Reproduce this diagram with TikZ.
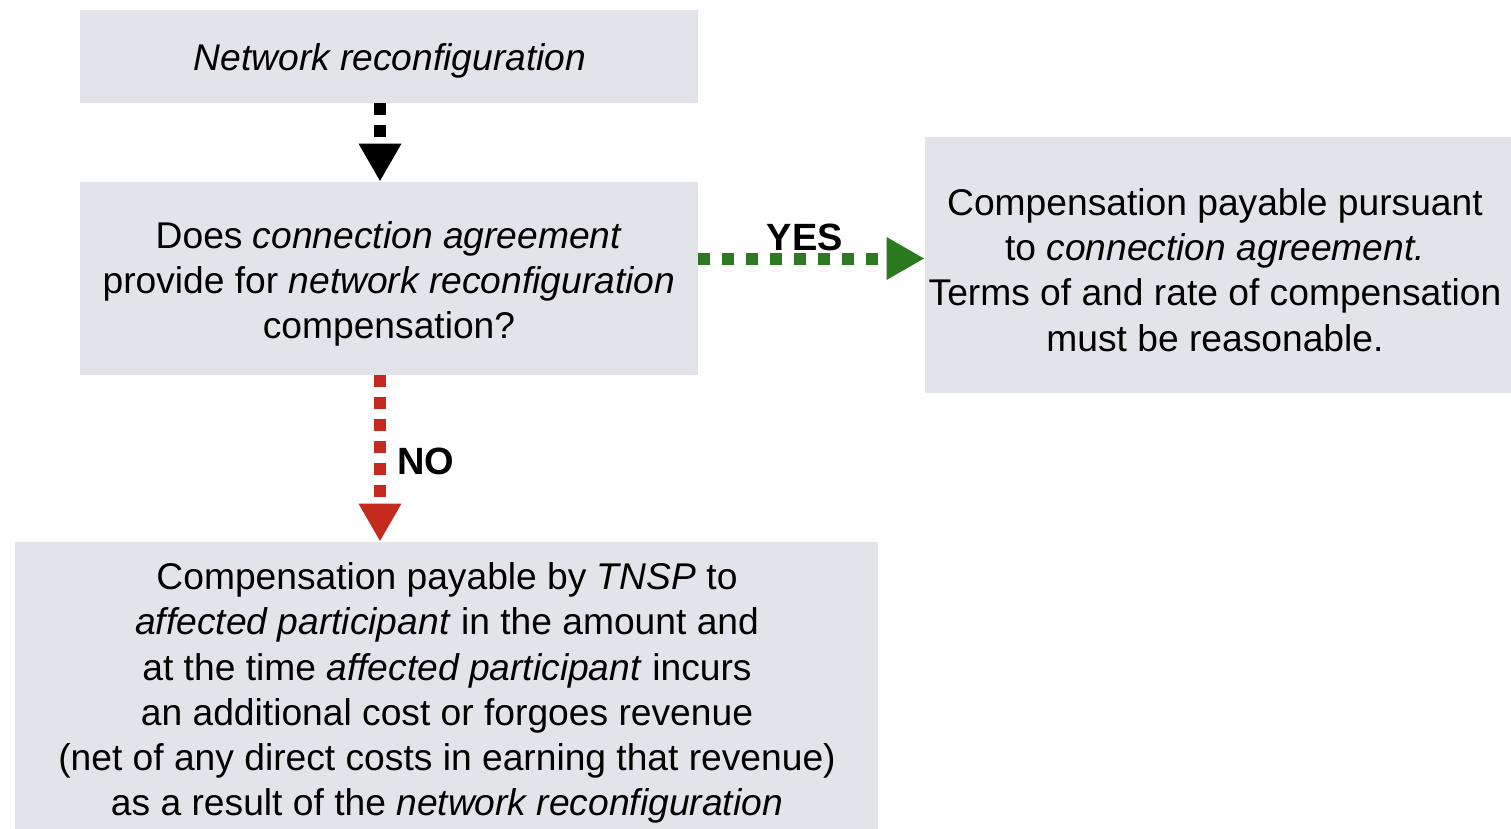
\documentclass[tikz,border=0pt]{standalone}
\usepackage{fontspec}
\setmainfont{Liberation Sans}
\usetikzlibrary{arrows.meta}
\definecolor{boxfill}{HTML}{E3E3EA}
\definecolor{yesgreen}{HTML}{2B7A20}
\definecolor{nored}{HTML}{C42A1D}
\tikzset{
  box/.style={fill=boxfill, draw=none, inner sep=0pt},
  txt/.style={align=center, inner sep=0pt,
    font=\fontsize{18.6}{22.6}\selectfont},
  flow/.style={line width=6pt, dash pattern=on 6pt off 5pt,
    -{Triangle[length=19pt,width=20pt]}},
  lbl/.style={font=\fontsize{19}{22}\selectfont\bfseries, inner sep=0pt}
}
\begin{document}
\begin{tikzpicture}[x=0.5pt,y=-0.5pt]
\useasboundingbox (0,0) rectangle (1511,829);
\node[box, minimum width=309pt, minimum height=46.5pt] (n1) at (389,56.5) {};
\node[box, minimum width=309pt, minimum height=96.5pt] (n2) at (389,278.5) {};
\node[box, minimum width=293pt, minimum height=128pt] (n3) at (1218,265) {};
\node[box, minimum width=431.5pt, minimum height=143.5pt] (n4) at (446.5,685.5) {};
\node[txt] (t1) at (390,61) {\itshape Network reconfiguration};
\node[txt] (t2) at (389,284) {Does \textit{connection agreement}\\provide for \textit{network reconfiguration}\\compensation?};
\node[txt] (t3) at (1215,270) {Compensation payable pursuant\\to \textit{connection agreement.}\\Terms of and rate of compensation\\must be reasonable.};
\node[txt] (t4) at (447,693) {Compensation payable by \textit{TNSP} to\\\textit{affected participant} in the amount and\\at the time \textit{affected participant} incurs\\an additional cost or forgoes revenue\\(net of any direct costs in earning that revenue)\\as a result of the \textit{network reconfiguration}};
\draw[flow, black] ([xshift=-4.5pt]n1.south) -- ([xshift=-4.5pt]n2.north);
\draw[flow, yesgreen, dash pattern=on 6pt off 6pt] ([yshift=10pt]n2.east) -- ([yshift=10pt]n2.east -| n3.west);
\draw[flow, nored] ([xshift=-4.5pt]n2.south) -- ([xshift=-4.5pt]n2.south |- n4.north);
\node[lbl] (yes) at (805,237) {YES};
\node[lbl] (no) at (426,461) {NO};
\end{tikzpicture}
\end{document}
